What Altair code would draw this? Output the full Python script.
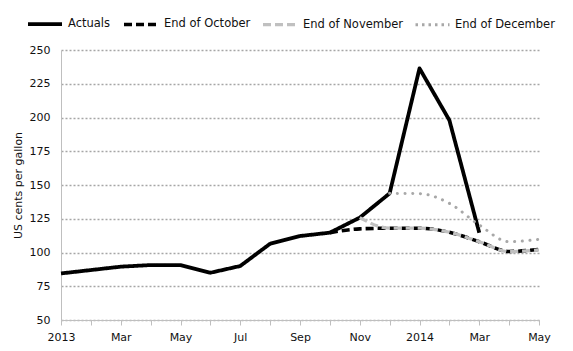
import altair as alt
import pandas as pd

# ---- data ----
tick_labels = ["2013", "", "Mar", "", "May", "", "Jul", "", "Sep", "", "Nov", "",
               "2014", "", "Mar", "", "May"]
series_names = ["Actuals", "End of October", "End of November", "End of December"]

actual_months = list(range(0, 15))
actuals = [84.5, 87, 89.5, 90.7, 90.7, 85, 90, 106.5, 112.2, 114.7, 125.8, 143.8, 236.4, 198, 114.7]

oct_months = list(range(9, 17))
oct_fc = [114.7, 117.5, 118, 118, 115, 108, 100.8, 102.3]

nov_months = list(range(10, 17))
nov_fc = [125.8, 118, 118, 115, 108, 100.6, 102]

dec_months = list(range(11, 17))
dec_fc = [143.8, 143.6, 136.4, 120.4, 108, 109.8]

colors = ["#000000", "#000000", "#C0C0C0", "#A8A8A8"]
dashes = [[1, 0], [8, 4], [8, 4], [2.5, 4]]
widths = [3.8, 3, 3, 3.4]

rows = []
for name, ms, vs in zip(series_names,
                        [actual_months, oct_months, nov_months, dec_months],
                        [actuals, oct_fc, nov_fc, dec_fc]):
    for m, v in zip(ms, vs):
        rows.append({"series": name, "month": m, "value": v})
df = pd.DataFrame(rows)

FONT = "DejaVu Sans"
label_expr = "[" + ",".join("'%s'" % t for t in tick_labels) + "][datum.value]"

x_enc = alt.X("month:Q",
              scale=alt.Scale(domain=[0, 16], nice=False, zero=False),
              axis=alt.Axis(values=list(range(17)), labelExpr=label_expr, title=None,
                            grid=False, domainColor="#BFBFBF", tickColor="#BFBFBF",
                            tickSize=5, labelPadding=6, labelFontSize=11, labelFont=FONT,
                            labelColor="#111111", labelFlush=False, labelOverlap=False))
y_enc = alt.Y("value:Q",
              scale=alt.Scale(domain=[50, 250], nice=False, zero=False),
              axis=alt.Axis(values=list(range(50, 251, 25)), title="US cents per gallon",
                            titleFont=FONT, titleFontSize=11, titleFontWeight="normal",
                            titleColor="#111111", titlePadding=6,
                            labelFont=FONT, labelFontSize=11, labelColor="#111111",
                            labelPadding=11, tickSize=0, domainColor="#BFBFBF",
                            grid=True, gridColor="#A6A6A6", gridDash=[2, 2], gridWidth=1.3))

legend = alt.Legend(title=None, orient="none", legendX=-35, legendY=-45,
                    direction="horizontal", symbolType="stroke", symbolSize=1156,
                    labelFont=FONT, labelFontSize=11.5, labelColor="#111111",
                    labelOffset=4, columnPadding=5, symbolOffset=0)

color_enc = alt.Color("series:N", scale=alt.Scale(domain=series_names, range=colors),
                      legend=legend)
dash_enc = alt.StrokeDash("series:N", scale=alt.Scale(domain=series_names, range=dashes),
                          legend=legend)
width_enc = alt.StrokeWidth("series:N", scale=alt.Scale(domain=series_names, range=widths),
                            legend=legend)

def layer(name, interp):
    return alt.Chart(df).transform_filter(alt.datum.series == name).mark_line(
        interpolate=interp, strokeCap="butt", strokeJoin="round"
    ).encode(x=x_enc, y=y_enc, color=color_enc, strokeDash=dash_enc, strokeWidth=width_enc)

dec_layer = alt.Chart(df).transform_filter(alt.datum.series == "End of December").mark_line(
    interpolate="monotone", strokeCap="round", strokeDash=[0.1, 7.6]
).encode(x=x_enc, y=y_enc, color=color_enc, strokeWidth=width_enc)

chart = alt.layer(
    layer("Actuals", "linear"),
    layer("End of October", "monotone"),
    layer("End of November", "monotone"),
    dec_layer,
).properties(
    width=478, height=270,
    autosize=alt.AutoSizeParams(type="none"),
    padding={"left": 61, "top": 50, "right": 34, "bottom": 31},
    background="#FFFFFF",
).configure_view(stroke=None)

chart.save("out.html", embed_options={"renderer": "svg", "actions": False})
